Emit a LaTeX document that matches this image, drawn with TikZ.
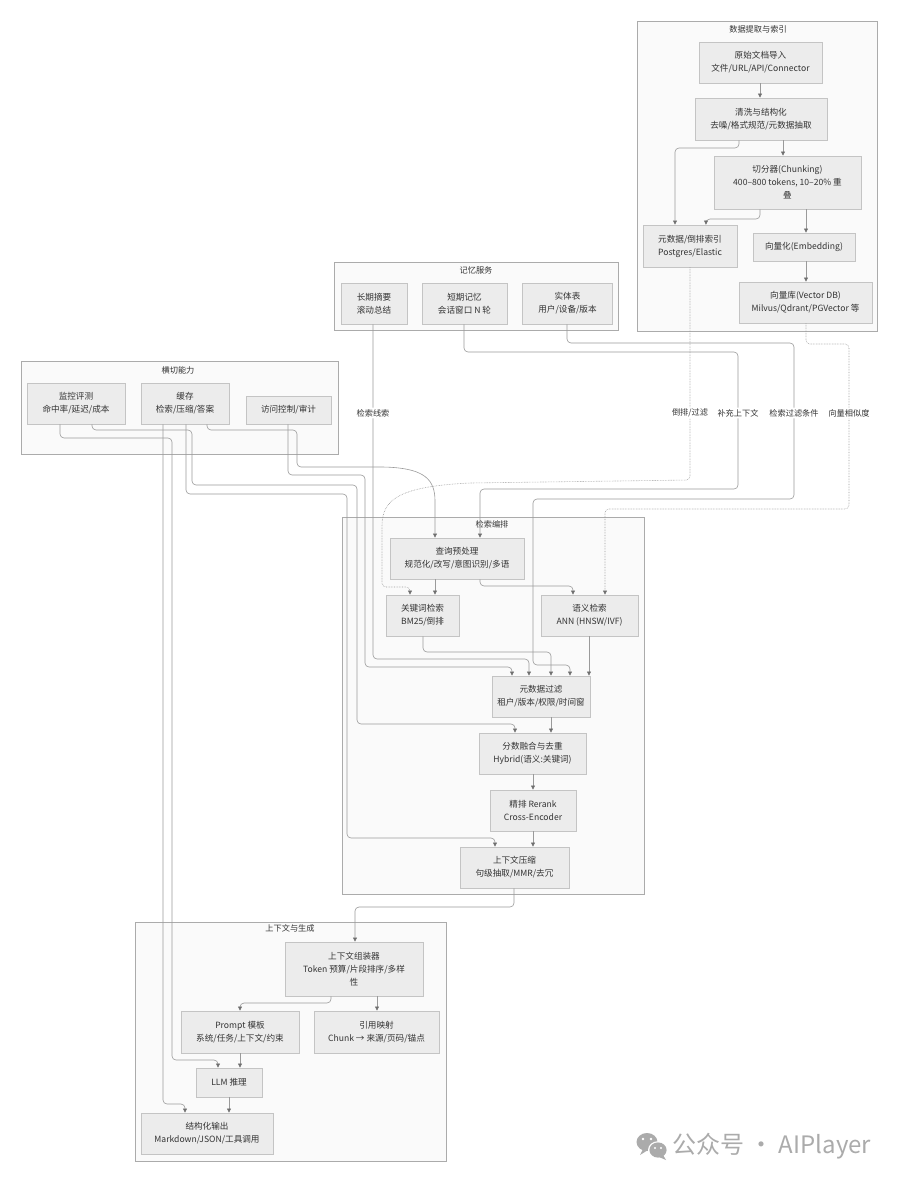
\documentclass[tikz,border=0pt]{standalone}
\usepackage{fontspec}
\setmainfont{Noto Sans CJK SC}
\usetikzlibrary{arrows.meta,positioning}
\definecolor{nodefill}{HTML}{ECECEC}
\definecolor{nodeline}{HTML}{C4C4C4}
\definecolor{grpfill}{HTML}{FAFAFA}
\definecolor{grpline}{HTML}{ABABAB}
\definecolor{edgecol}{HTML}{9A9A9A}
\definecolor{tipcol}{HTML}{6E6E6E}
\definecolor{txt}{HTML}{333333}
\definecolor{wmcol}{HTML}{ABABAB}
\newcommand{\boxfont}{\fontsize{8.6}{13}\selectfont}
\newcommand{\grptitlefont}{\fontsize{8.2}{10}\selectfont}

\begin{document}
\begin{tikzpicture}[x=1pt,y=-1pt,
    box/.style={draw=nodeline, fill=nodefill, line width=0.9pt, align=center, inner sep=2pt, font=\boxfont, text=txt},
    grp/.style={draw=grpline, fill=grpfill, line width=0.7pt},
    grptitle/.style={font=\grptitlefont, text=txt, inner sep=0pt},
    edge/.style={draw=edgecol, line width=0.6pt, rounded corners=4pt, -{Triangle[length=4pt,width=4pt,color=tipcol]}},
    dotline/.style={edge, densely dotted},
    elabel/.style={fill=white, font=\grptitlefont, text=txt, inner sep=1.5pt}]
  \fill[white] (0,0) rectangle (900,1182);
  \useasboundingbox (0,0) rectangle (900,1182);

  % subgraphs
  \node[grp, minimum width=240, minimum height=310] (ingestgrp) at (757,176) {};
  \node[grptitle] at (758,29) {数据提取与索引};
  \node[grp, minimum width=284, minimum height=68] (memgrp) at (476,296) {};
  \node[grptitle] at (476,270) {记忆服务};
  \node[grp, minimum width=317, minimum height=93] (crossgrp) at (179.5,407.5) {};
  \node[grptitle] at (178,370) {横切能力};
  \node[grp, minimum width=302, minimum height=377] (retrgrp) at (493,705.5) {};
  \node[grptitle] at (492,524) {检索编排};
  \node[grp, minimum width=311, minimum height=239] (gengrp) at (290.5,1041.5) {};
  \node[grptitle] at (290,928) {上下文与生成};

  % ingestion
  \node[box, minimum width=123, minimum height=41] (ingest) at (760.5,62.5) {原始文档导入\\文件/URL/API/Connector};
  \node[box, minimum width=132, minimum height=42] (clean) at (761,119) {清洗与结构化\\去噪/格式规范/元数据抽取};
  \node[box, minimum width=147, minimum height=53] (chunker) at (787.5,182.5) {切分器(Chunking)\\400–800 tokens, 10–20\% 重\\叠};
  \node[box, minimum width=94, minimum height=42] (metaidx) at (690,246) {元数据/倒排索引\\Postgres/Elastic};
  \node[box, minimum width=102, minimum height=28] (embed) at (804,247) {向量化(Embedding)};
  \node[box, minimum width=133, minimum height=41] (vecdb) at (805.5,302.5) {向量库(Vector DB)\\Milvus/Qdrant/PGVector 等};

  % memory
  \node[box, minimum width=66, minimum height=41] (longmem) at (374,303.5) {长期摘要\\滚动总结};
  \node[box, minimum width=85, minimum height=41] (shortmem) at (464.5,303.5) {短期记忆\\会话窗口 N 轮};
  \node[box, minimum width=90, minimum height=41] (entity) at (567.5,303.5) {实体表\\用户/设备/版本};

  % cross-cutting
  \node[box, minimum width=98, minimum height=41] (monitor) at (76,403.5) {监控评测\\命中率/延迟/成本};
  \node[box, minimum width=88, minimum height=41] (cache) at (185,403.5) {缓存\\检索/压缩/答案};
  \node[box, minimum width=85, minimum height=28] (acl) at (288.5,410) {访问控制/审计};

  % retrieval
  \node[box, minimum width=134, minimum height=41] (preproc) at (457,558.5) {查询预处理\\规范化/改写/意图识别/多语};
  \node[box, minimum width=73, minimum height=41] (keyword) at (422.5,615.5) {关键词检索\\BM25/倒排};
  \node[box, minimum width=97, minimum height=41] (semantic) at (589.5,615.5) {语义检索\\ANN (HNSW/IVF)};
  \node[box, minimum width=98, minimum height=41] (metafilter) at (541,696.5) {元数据过滤\\租户/版本/权限/时间窗};
  \node[box, minimum width=107, minimum height=41] (fusion) at (532.5,753.5) {分数融合与去重\\Hybrid(语义:关键词)};
  \node[box, minimum width=86, minimum height=41] (rerank) at (533,810.5) {精排 Rerank\\Cross-Encoder};
  \node[box, minimum width=109, minimum height=41] (compress) at (514.5,867.5) {上下文压缩\\句级抽取/MMR/去冗};

  % generation
  \node[box, minimum width=138, minimum height=54] (assembler) at (354,969) {上下文组装器\\Token 预算/片段排序/多样\\性};
  \node[box, minimum width=118, minimum height=42] (prompt) at (240,1032) {Prompt 模板\\系统/任务/上下文/约束};
  \node[box, minimum width=125, minimum height=42] (citemap) at (376.5,1032) {引用映射\\Chunk → 来源/页码/锚点};
  \node[box, minimum width=66, minimum height=29] (llm) at (229,1082.5) {LLM 推理};
  \node[box, minimum width=132, minimum height=41] (output) at (207,1133.5) {结构化输出\\Markdown/JSON/工具调用};

  % ingestion edges
  \draw[edge] (760,0 |- ingest.south) -- (760,0 |- clean.north);
  \draw[edge] (739,0 |- clean.south) -- (739,148) -- (675,148) -- (675,0 |- metaidx.north);
  \draw[edge] (783,0 |- clean.south) -- (783,0 |- chunker.north);
  \draw[edge] (760,0 |- chunker.south) -- (760,219) -- (706,219) -- (706,0 |- metaidx.north);
  \draw[edge] (806,0 |- chunker.south) -- (806,0 |- embed.north);
  \draw[edge] (806,0 |- embed.south) -- (806,0 |- vecdb.north);

  % feeds into retrieval
  \draw[edge] (373,0 |- longmem.south) -- (373,413) node[elabel] {检索线索} -- (373,659) -- (529,659) -- (529,0 |- metafilter.north);
  \draw[edge] (464,0 |- shortmem.south) -- (464,352) -- (738,352) -- (738,413) node[elabel] {补充上下文} -- (738,489) -- (480,489) -- (480,0 |- preproc.north);
  \draw[edge] (567,0 |- entity.south) -- (567,343) -- (794,343) -- (794,413) node[elabel] {检索过滤条件} -- (794,499) -- (533,499) -- (533,665) -- (570,665) -- (570,0 |- metafilter.north);
  \draw[dotline] (690,0 |- metaidx.south) -- (690,413) node[elabel] {倒排/过滤} -- (690,480) -- (470,483) .. controls (398,487) and (382,500) .. (382,530) -- (382,587) -- (410,587) -- (410,0 |- keyword.north);
  \draw[dotline] (806,0 |- vecdb.south) -- (806,344) -- (849,344) -- (849,413) node[elabel] {向量相似度} -- (849,509) -- (605,509) -- (605,0 |- semantic.north);

  % cross-cutting edges
  \draw[edge] (92,0 |- monitor.south) -- (92,430) -- (192,430) -- (192,485) -- (357,485) -- (357,724) -- (515,724) -- (515,0 |- fusion.north);
  \draw[edge] (60,0 |- monitor.south) -- (60,438) -- (172,438) -- (172,1060) -- (218,1060) -- (218,0 |- llm.north);
  \draw[edge] (163,0 |- cache.south) -- (163,1104) -- (185,1104) -- (185,0 |- output.north);
  \draw[edge] (186,0 |- cache.south) -- (186,494) -- (347,494) -- (347,838) -- (495,838) -- (495,0 |- compress.north);
  \draw[edge] (207,0 |- cache.south) -- (207,430) -- (297,430) -- (297,467) -- (385,467) .. controls (425,469) and (435,480) .. (435,505) -- (435,0 |- preproc.north);
  \draw[edge] (288,0 |- acl.south) -- (288,475) -- (365,475) -- (365,667) -- (512,667) -- (512,0 |- metafilter.north);

  % retrieval edges
  \draw[edge] (435,0 |- preproc.south) -- (435,0 |- keyword.north);
  \draw[edge] (480,0 |- preproc.south) -- (480,586) -- (573,586) -- (573,0 |- semantic.north);
  \draw[edge] (423,0 |- keyword.south) -- (423,652) -- (551,652) -- (551,0 |- metafilter.north);
  \draw[edge] (589,0 |- semantic.south) -- (589,0 |- metafilter.north);
  \draw[edge] (551,0 |- metafilter.south) -- (551,0 |- fusion.north);
  \draw[edge] (533,0 |- fusion.south) -- (533,0 |- rerank.north);
  \draw[edge] (533,0 |- rerank.south) -- (533,0 |- compress.north);

  % generation edges
  \draw[edge] (514,0 |- compress.south) -- (514,907) -- (355,907) -- (355,0 |- assembler.north);
  \draw[edge] (331,0 |- assembler.south) -- (331,1003) -- (240,1003) -- (240,0 |- prompt.north);
  \draw[edge] (377,0 |- assembler.south) -- (377,0 |- citemap.north);
  \draw[edge] (240,0 |- prompt.south) -- (240,0 |- llm.north);
  \draw[edge] (229,0 |- llm.south) -- (229,0 |- output.north);

  % watermark
  \fill[wmcol] (647,1142) ellipse (10.5 and 9);
  \fill[wmcol] (643,1149) -- (640,1155) -- (648,1150) -- cycle;
  \fill[white] (658,1150) ellipse (10 and 8.8);
  \fill[wmcol] (658,1150) ellipse (8.6 and 7.6);
  \fill[wmcol] (663,1155) -- (666,1160) -- (659,1157) -- cycle;
  \fill[white] (643,1139) circle (1.3) (651,1139) circle (1.3) (655,1148) circle (1.1) (661,1148) circle (1.1);
  \node[text=wmcol, font=\fontsize{24}{26}\selectfont, inner sep=0pt, anchor=west] (wmtext) at (672,1146) {公众号 · AIPlayer};
\end{tikzpicture}
\end{document}
